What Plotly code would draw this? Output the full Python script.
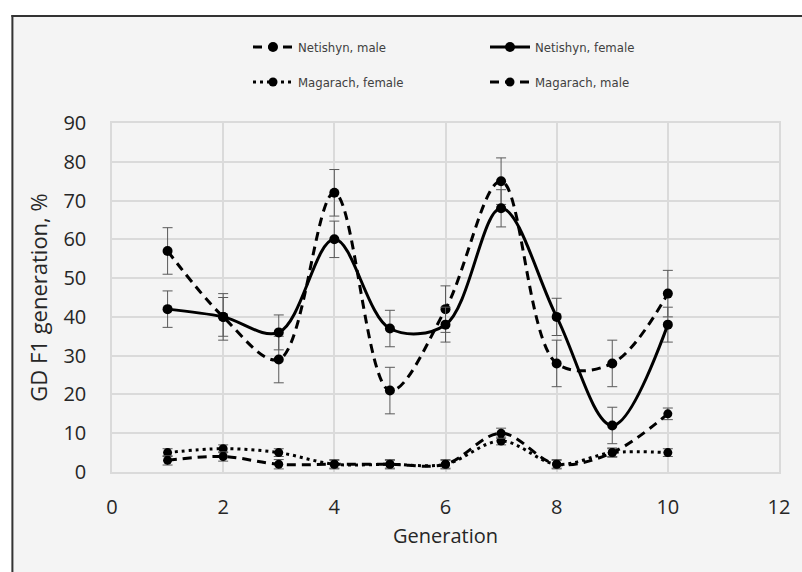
import plotly.graph_objects as go

generation = [1, 2, 3, 4, 5, 6, 7, 8, 9, 10]

netishyn_male = [57, 40, 29, 72, 21, 42, 75, 28, 28, 46]
netishyn_male_err = [6, 6, 6, 6, 6, 6, 6, 6, 6, 6]

netishyn_female = [42, 40, 36, 60, 37, 38, 68, 40, 12, 38]
netishyn_female_err = [4.7, 5, 4.5, 4.7, 4.7, 4.5, 4.8, 4.8, 4.7, 4.5]

magarach_female = [5, 6, 5, 2, 2, 2, 8, 2, 5, 5]
magarach_female_err = [1, 1, 1, 1, 1, 1, 1, 1, 1, 1]

magarach_male = [3, 4, 2, 2, 2, 2, 10, 2, 5, 15]
magarach_male_err = [1.2, 1.2, 1.2, 1.2, 1.2, 1.2, 1.3, 1.2, 1.2, 1.5]

x_ticks = [0, 2, 4, 6, 8, 10, 12]
y_ticks = [0, 10, 20, 30, 40, 50, 60, 70, 80, 90]

BG = "#f4f4f4"
GRID = "#dadada"
ERR = "#5a5a5a"
AXFONT = "Open Sans, DejaVu Sans, sans-serif"
LEGFONT = "DejaVu Sans Condensed, Liberation Sans Narrow, sans-serif"

series = [
    ("Netishyn, male", netishyn_male, netishyn_male_err, "9px,6px", 10, "legend"),
    ("Netishyn, female", netishyn_female, netishyn_female_err, "solid", 10, "legend"),
    ("Magarach, female", magarach_female, magarach_female_err, "3px,4px", 9, "legend2"),
    ("Magarach, male", magarach_male, magarach_male_err, "9px,6px", 9, "legend2"),
]

fig = go.Figure()
for name, vals, err, dash, msize, leg in series:
    fig.add_trace(go.Scatter(
        x=generation, y=vals, name=name, legend=leg,
        mode="lines+markers",
        line=dict(color="black", width=3, dash=dash, shape="spline", smoothing=1.0),
        marker=dict(color="black", size=msize, symbol="circle"),
        error_y=dict(type="data", array=err, visible=True, color=ERR, thickness=1, width=5),
    ))

# plot geometry (px)
L, R, T, B = 112, 781.7, 120, 472
W, H = R - L, B - T


def px_x(p):
    return (p - L) / W


def px_y(p):
    return (B - p) / H


shapes = [
    dict(type="rect", xref="paper", yref="paper", x0=px_x(-5), x1=px_x(11), y0=px_y(-5), y1=px_y(580),
         fillcolor="white", line=dict(width=0), layer="below"),
    dict(type="rect", xref="paper", yref="paper", x0=px_x(-5), x1=px_x(810), y0=px_y(-5), y1=px_y(11),
         fillcolor="white", line=dict(width=0), layer="below"),
    dict(type="line", xref="paper", yref="paper", x0=px_x(11), x1=px_x(810), y0=px_y(12), y1=px_y(12),
         line=dict(color="#333333", width=2)),
    dict(type="line", xref="paper", yref="paper", x0=px_x(12), x1=px_x(12), y0=px_y(11), y1=px_y(580),
         line=dict(color="#333333", width=2)),
]

legend_common = dict(
    orientation="h", xref="container", yref="container", xanchor="left", yanchor="middle",
    bgcolor="rgba(0,0,0,0)", borderwidth=0, entrywidth=182, entrywidthmode="pixels",
    font=dict(family=LEGFONT, size=13, color="#404040"), itemwidth=40, tracegroupgap=0,
)

fig.update_layout(
    width=802, height=572,
    margin=dict(l=L, r=802 - R, t=T, b=572 - B, pad=0),
    paper_bgcolor=BG, plot_bgcolor=BG,
    shapes=shapes,
    showlegend=True,
    legend=dict(x=248 / 802, y=1 - 47 / 572, **legend_common),
    legend2=dict(x=248 / 802, y=1 - 82 / 572, **legend_common),
    xaxis=dict(
        range=[0, 12], tickvals=x_ticks, ticktext=[str(v) for v in x_ticks],
        showgrid=True, gridcolor=GRID, gridwidth=1.5, zeroline=False,
        showline=True, linecolor=GRID, linewidth=1.5, mirror=True,
        ticks="", ticklabelstandoff=16,
        tickfont=dict(family=AXFONT, size=20, color="#262626"),
        title=dict(text="Generation", font=dict(family=AXFONT, size=20, color="#262626"), standoff=10),
    ),
    yaxis=dict(
        range=[0, 90], tickvals=y_ticks, ticktext=[str(v) for v in y_ticks],
        showgrid=True, gridcolor=GRID, gridwidth=1.5, zeroline=False,
        showline=True, linecolor=GRID, linewidth=1.5, mirror=True,
        ticks="", ticklabelstandoff=20,
        tickfont=dict(family=AXFONT, size=20, color="#262626"),
        title=dict(text="GD F1 generation, %", font=dict(family=AXFONT, size=22, color="#262626"), standoff=10),
    ),
)

fig.write_html(
    "out.html",
    config={"displayModeBar": False},
    post_script="document.body.style.margin='0';document.body.style.overflow='hidden';",
)
